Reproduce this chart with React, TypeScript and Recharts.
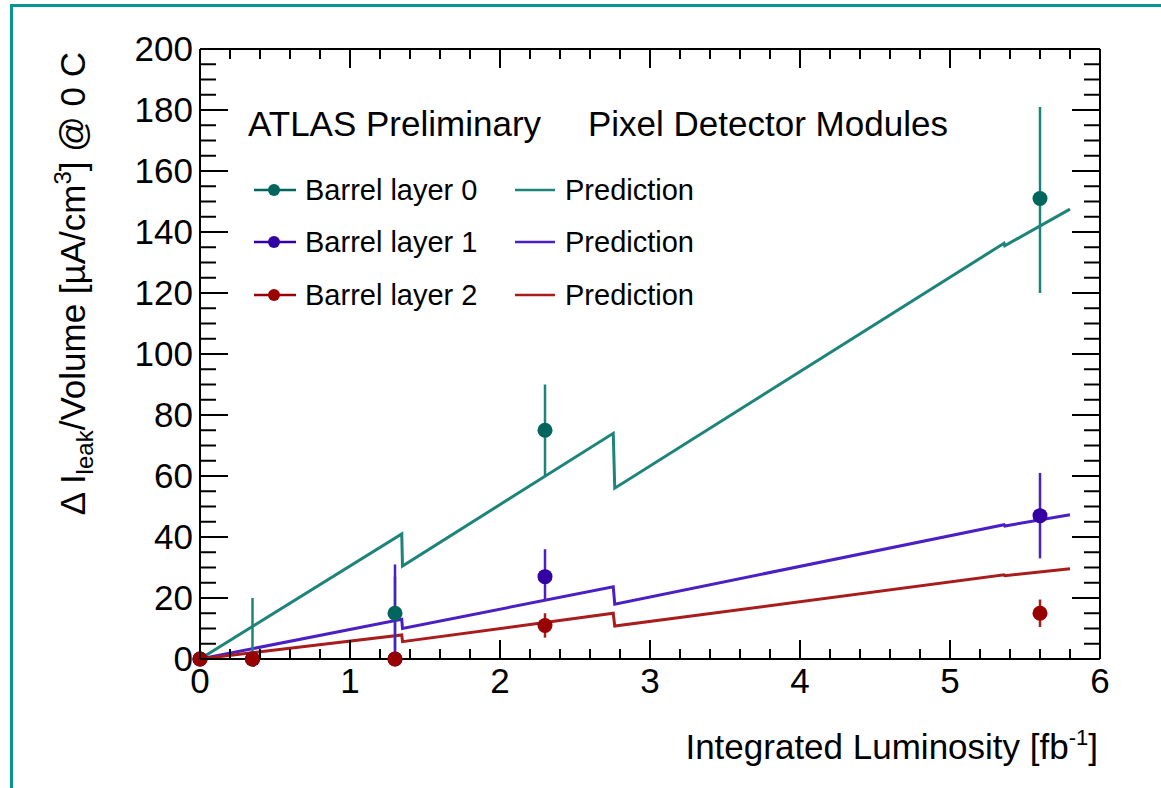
import React from 'react';
import { ComposedChart, Line, Scatter, ErrorBar, XAxis, YAxis } from 'recharts';

const FONT = '"Liberation Sans", Arial, Helvetica, sans-serif';

// axis ticks
const xMajorTicks = [0, 1, 2, 3, 4, 5, 6];
const yMajorTicks = [0, 20, 40, 60, 80, 100, 120, 140, 160, 180, 200];
const xSubdiv = 5;
const ySubdiv = 4;

// measured points (integrated luminosity, fb^-1)
const lumi = [0, 0.35, 1.3, 2.3, 5.6];
const layer0 = [0, 0, 15, 75, 151];
const layer0ErrLow = [0, 0, 12, 15, 31];
const layer0ErrHigh = [0, 20, 12, 15, 30];
const layer1 = [0, 0, 0, 27, 47];
const layer1ErrLow = [0, 0, 0, 8, 14];
const layer1ErrHigh = [0, 0, 31, 9, 14];
const layer2 = [0, 0, 0, 11, 15];
const layer2ErrLow = [0, 0, 0, 4, 4.5];
const layer2ErrHigh = [0, 0, 0, 4, 4.5];

// predictions (annealing periods give the drops)
const predLumi = [0, 1.345, 1.35, 2.755, 2.765, 5.36, 5.365, 5.8];
const pred0 = [0, 41, 30.5, 74, 56, 136.3, 135.5, 147.5];
const pred1 = [0, 13, 10, 23.7, 18, 44, 43.6, 47.3];
const pred2 = [0, 7.9, 5.7, 15, 10.8, 27.6, 27.3, 29.6];

const COLORS = {
  l0: { dot: '#00665d', line: '#1d847a' },
  l1: { dot: '#3300a3', line: '#4a1fc4' },
  l2: { dot: '#990000', line: '#a81c1c' },
};

const withMinor = (majors: number[], n: number) => {
  const out: number[] = [];
  for (let i = 0; i < majors.length - 1; i++) {
    const step = (majors[i + 1] - majors[i]) / n;
    for (let k = 0; k < n; k++) out.push(+(majors[i] + k * step).toFixed(4));
  }
  out.push(majors[majors.length - 1]);
  return out;
};

const xTicks = withMinor(xMajorTicks, xSubdiv);
const yTicks = withMinor(yMajorTicks, ySubdiv);

const points = (ys: number[], lo: number[], hi: number[]) =>
  lumi.map((x, i) => ({ x, y: ys[i], err: [lo[i], hi[i]] }));
const pred = (ys: number[]) => predLumi.map((x, i) => ({ x, y: ys[i] }));

const data0 = points(layer0, layer0ErrLow, layer0ErrHigh);
const data1 = points(layer1, layer1ErrLow, layer1ErrHigh);
const data2 = points(layer2, layer2ErrLow, layer2ErrHigh);

const isMajor = (v: number, majors: number[]) => majors.some((m) => Math.abs(m - v) < 1e-6);

const makeTick = (side: 'bottom' | 'top' | 'left' | 'right') => (props: any) => {
  const { x, y, payload } = props;
  const v = payload.value;
  const horizontal = side === 'bottom' || side === 'top';
  const major = isMajor(v, horizontal ? xMajorTicks : yMajorTicks);
  const len = horizontal ? (major ? 19 : 10) : major ? 28 : 16;
  let line;
  if (side === 'bottom') line = <line x1={x} y1={y} x2={x} y2={y - len} />;
  else if (side === 'top') line = <line x1={x} y1={y} x2={x} y2={y + len} />;
  else if (side === 'left') line = <line x1={x} y1={y} x2={x + len} y2={y} />;
  else line = <line x1={x} y1={y} x2={x - len} y2={y} />;
  return (
    <g stroke="#000" strokeWidth={2}>
      {line}
      {major && side === 'bottom' && (
        <text x={x} y={y + 34} textAnchor="middle" fontSize={35} fontFamily={FONT} fill="#000" stroke="none">
          {v}
        </text>
      )}
      {major && side === 'left' && (
        <text x={x - 7} y={y + 12} textAnchor="end" fontSize={35} fontFamily={FONT} fill="#000" stroke="none">
          {v}
        </text>
      )}
    </g>
  );
};

const dotShape = (color: string) => (props: any) =>
  <circle cx={props.cx} cy={props.cy} r={7.5} fill={color} />;

const axisLine = { stroke: '#000', strokeWidth: 2 };

const LegendRow = ({ y, color, line, label }: { y: number; color: string; line: string; label: string }) => (
  <g>
    <line x1={254} y1={y} x2={296} y2={y} stroke={color} strokeWidth={2.5} />
    <circle cx={274} cy={y} r={6} fill={color} />
    <text x={305} y={y + 10} fontSize={29} fontFamily={FONT} fill="#000">{label}</text>
    <line x1={515} y1={y} x2={555} y2={y} stroke={line} strokeWidth={2.5} />
    <text x={565} y={y + 10} fontSize={29} fontFamily={FONT} fill="#000">Prediction</text>
  </g>
);

// plot box: x 200..1100, y 49..659
const LEFT_W = 60;
const RIGHT_W = 10;
const TOP_H = 10;
const BOTTOM_H = 60;

export default function App() {
  return (
    <div style={{ position: 'absolute', left: 0, top: 0, width: 1161, height: 788, overflow: 'hidden', background: '#fff' }}>
      <div
        style={{
          position: 'absolute', left: 10, top: 4, width: 1300, height: 900,
          borderLeft: '3px solid #08958f', borderTop: '3px solid #08958f',
        }}
      />
      <div style={{ position: 'absolute', left: 0, top: 0 }}>
        <ComposedChart
          width={1161}
          height={788}
          margin={{ top: 49 - TOP_H, right: 61 - RIGHT_W, bottom: 129 - BOTTOM_H, left: 200 - LEFT_W }}
        >
          <XAxis xAxisId={0} dataKey="x" type="number" domain={[0, 6]} ticks={xTicks} interval={0}
            height={BOTTOM_H} tickSize={0} tickMargin={0} tickLine={false} axisLine={axisLine} tick={makeTick('bottom')} />
          <XAxis xAxisId="top" orientation="top" dataKey="x" type="number" domain={[0, 6]} allowDataOverflow ticks={xTicks}
            interval={0} height={TOP_H} tickSize={0} tickMargin={0} tickLine={false} axisLine={axisLine} tick={makeTick('top')} />
          <YAxis yAxisId={0} dataKey="y" type="number" domain={[0, 200]} ticks={yTicks} interval={0}
            width={LEFT_W} tickSize={0} tickMargin={0} tickLine={false} axisLine={axisLine} tick={makeTick('left')} />
          <YAxis yAxisId="right" orientation="right" dataKey="y" type="number" domain={[0, 200]} allowDataOverflow
            ticks={yTicks} interval={0} width={RIGHT_W} tickSize={0} tickMargin={0} tickLine={false} axisLine={axisLine}
            tick={makeTick('right')} />

          <Line data={pred(pred0)} dataKey="y" type="linear" stroke={COLORS.l0.line} strokeWidth={3} dot={false} isAnimationActive={false} />
          <Line data={pred(pred1)} dataKey="y" type="linear" stroke={COLORS.l1.line} strokeWidth={3} dot={false} isAnimationActive={false} />
          <Line data={pred(pred2)} dataKey="y" type="linear" stroke={COLORS.l2.line} strokeWidth={3} dot={false} isAnimationActive={false} />

          <Scatter data={data0} dataKey="y" shape={dotShape(COLORS.l0.dot)} isAnimationActive={false}>
            <ErrorBar dataKey="err" direction="y" width={0} stroke={COLORS.l0.line} strokeWidth={2.5} isAnimationActive={false} />
          </Scatter>
          <Scatter data={data1} dataKey="y" shape={dotShape(COLORS.l1.dot)} isAnimationActive={false}>
            <ErrorBar dataKey="err" direction="y" width={0} stroke={COLORS.l1.line} strokeWidth={2.5} isAnimationActive={false} />
          </Scatter>
          <Scatter data={data2} dataKey="y" shape={dotShape(COLORS.l2.dot)} isAnimationActive={false}>
            <ErrorBar dataKey="err" direction="y" width={0} stroke={COLORS.l2.line} strokeWidth={2.5} isAnimationActive={false} />
          </Scatter>
        </ComposedChart>
      </div>
      <svg width={1161} height={788} style={{ position: 'absolute', left: 0, top: 0, pointerEvents: 'none' }}>
        <text x={248} y={136} fontSize={35} fontFamily={FONT} fill="#000">ATLAS Preliminary</text>
        <text x={588} y={136} fontSize={35} fontFamily={FONT} fill="#000">Pixel Detector Modules</text>
        <LegendRow y={190} color={COLORS.l0.dot} line={COLORS.l0.line} label="Barrel layer 0" />
        <LegendRow y={242} color={COLORS.l1.dot} line={COLORS.l1.line} label="Barrel layer 1" />
        <LegendRow y={295} color={COLORS.l2.dot} line={COLORS.l2.line} label="Barrel layer 2" />
        <text x={1098} y={759} textAnchor="end" fontSize={35} fontFamily={FONT} fill="#000">
          Integrated Luminosity [fb
          <tspan fontSize={22} dy={-14}>-1</tspan>
          <tspan dy={14}>]</tspan>
        </text>
        <text transform="translate(85,52) rotate(-90)" x={0} y={0} textAnchor="end" fontSize={35} fontFamily={FONT} fill="#000">
          {'Δ I'}
          <tspan fontSize={24} dy={8}>leak</tspan>
          <tspan dy={-8}>/Volume [µA/cm</tspan>
          <tspan fontSize={24} dy={-14}>3</tspan>
          <tspan dy={14}>] @ 0 C</tspan>
        </text>
      </svg>
    </div>
  );
}
